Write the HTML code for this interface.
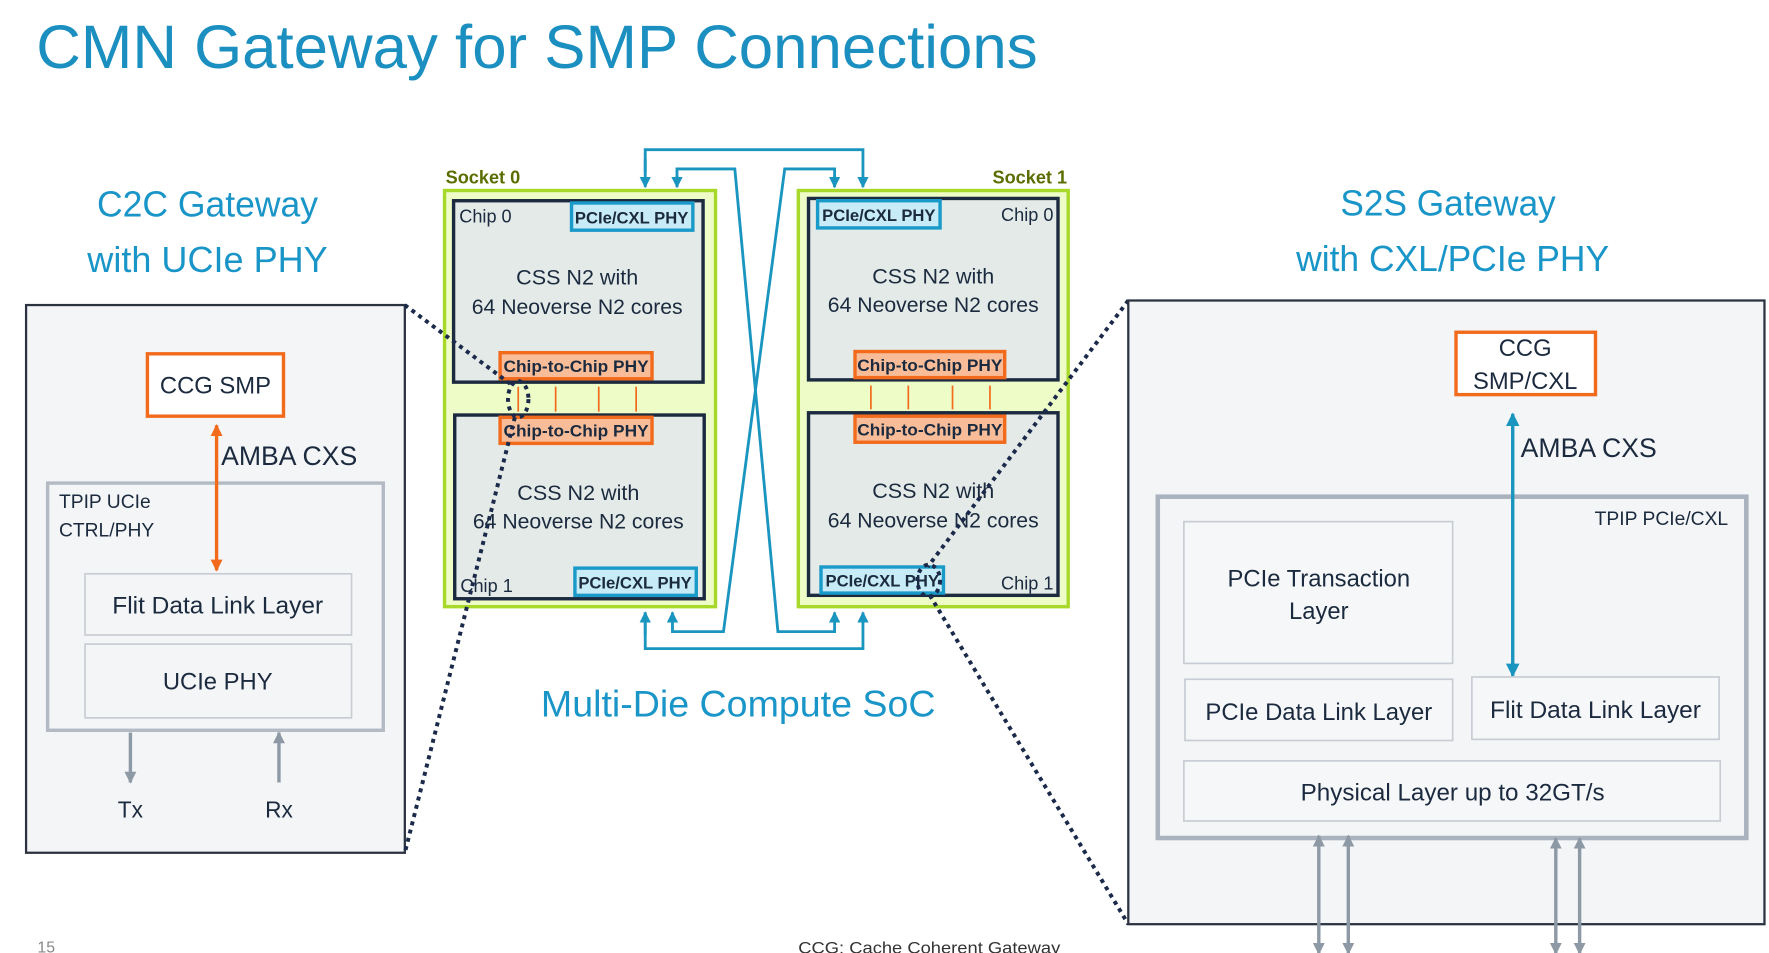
<!DOCTYPE html>
<html><head><meta charset="utf-8"><style>
html,body{margin:0;padding:0;background:#fff;}
svg{display:block;}
text{font-family:"Liberation Sans",sans-serif;}
</style></head><body>
<svg width="1769" height="953" viewBox="0 0 1560 840.4" preserveAspectRatio="none" xmlns="http://www.w3.org/2000/svg">
<defs>
<marker id="ab" viewBox="0 0 10 10" refX="9" refY="5" markerWidth="4" markerHeight="4" orient="auto-start-reverse"><path d="M0,0L10,5L0,10z" fill="#1a95c0"/></marker>
<marker id="ao" viewBox="0 0 10 10" refX="9" refY="5" markerWidth="3.5" markerHeight="3.5" orient="auto-start-reverse"><path d="M0,0L10,5L0,10z" fill="#f26b1d"/></marker>
<marker id="ag" viewBox="0 0 10 10" refX="9" refY="5" markerWidth="3.5" markerHeight="3.5" orient="auto-start-reverse"><path d="M0,0L10,5L0,10z" fill="#8e99a6"/></marker>
</defs>
<text x="32" y="60" font-size="54" fill="#1a8fc0" textLength="883" lengthAdjust="spacingAndGlyphs">CMN Gateway for SMP Connections</text>

<text x="183" y="191" font-size="32" fill="#1a95c8" text-anchor="middle" textLength="195" lengthAdjust="spacingAndGlyphs">C2C Gateway</text>
<text x="183" y="240" font-size="32" fill="#1a95c8" text-anchor="middle" textLength="212" lengthAdjust="spacingAndGlyphs">with UCIe PHY</text>
<text x="1277" y="190" font-size="32" fill="#1a95c8" text-anchor="middle" textLength="190" lengthAdjust="spacingAndGlyphs">S2S Gateway</text>
<text x="1281" y="239" font-size="32" fill="#1a95c8" text-anchor="middle" textLength="276" lengthAdjust="spacingAndGlyphs">with CXL/PCIe PHY</text>

<!-- left box -->
<rect x="23" y="269" width="334" height="483" fill="#f4f5f7" stroke="#2b3340" stroke-width="2"/>
<rect x="130" y="312" width="120" height="55" fill="#fff" stroke="#f26b1d" stroke-width="3"/>
<text x="190" y="347" font-size="21" fill="#1b2a3e" text-anchor="middle">CCG SMP</text>
<rect x="42" y="426" width="296" height="218" fill="#f4f5f7" stroke="#b3bac4" stroke-width="3"/>
<line x1="191" y1="375" x2="191" y2="503" stroke="#f26b1d" stroke-width="3" marker-start="url(#ao)" marker-end="url(#ao)"/>
<text x="195" y="410" font-size="24" fill="#1b2a3e" textLength="120" lengthAdjust="spacingAndGlyphs">AMBA CXS</text>
<text x="52" y="448" font-size="17" fill="#1b2a3e">TPIP UCIe</text>
<text x="52" y="473" font-size="17" fill="#1b2a3e">CTRL/PHY</text>
<rect x="75" y="506" width="235" height="54" fill="#f4f5f7" stroke="#c8cdd4" stroke-width="1.5"/>
<text x="192" y="541" font-size="21" fill="#1b2a3e" text-anchor="middle" textLength="186" lengthAdjust="spacingAndGlyphs">Flit Data Link Layer</text>
<rect x="75" y="568" width="235" height="65" fill="#f4f5f7" stroke="#c8cdd4" stroke-width="1.5"/>
<text x="192" y="608" font-size="21" fill="#1b2a3e" text-anchor="middle">UCIe PHY</text>
<line x1="115" y1="646" x2="115" y2="690" stroke="#8e99a6" stroke-width="3" marker-end="url(#ag)"/>
<line x1="246" y1="690" x2="246" y2="646" stroke="#8e99a6" stroke-width="3" marker-end="url(#ag)"/>
<text x="115" y="721" font-size="20" fill="#1b2a3e" text-anchor="middle">Tx</text>
<text x="246" y="721" font-size="20" fill="#1b2a3e" text-anchor="middle">Rx</text>

<!-- sockets -->
<text x="393" y="162" font-size="16" font-weight="bold" fill="#5a6e00">Socket 0</text>
<text x="941" y="162" font-size="16" font-weight="bold" fill="#5a6e00" text-anchor="end">Socket 1</text>
<rect x="392" y="168" width="239" height="367" fill="#eefcc8" stroke="#a8d82a" stroke-width="3"/>
<rect x="704" y="168" width="238" height="367" fill="#eefcc8" stroke="#a8d82a" stroke-width="3"/>

<g font-size="19" fill="#1b2a3e" text-anchor="middle">
<rect x="400" y="177" width="220" height="160" fill="#e3eae8" stroke="#1b2a3e" stroke-width="3"/>
<text x="509" y="251">CSS N2 with</text><text x="509" y="277" textLength="186" lengthAdjust="spacingAndGlyphs">64 Neoverse N2 cores</text>
<rect x="401" y="366" width="220" height="162" fill="#e3eae8" stroke="#1b2a3e" stroke-width="3"/>
<text x="510" y="441">CSS N2 with</text><text x="510" y="466" textLength="186" lengthAdjust="spacingAndGlyphs">64 Neoverse N2 cores</text>
<rect x="713" y="175" width="220" height="160" fill="#e3eae8" stroke="#1b2a3e" stroke-width="3"/>
<text x="823" y="250">CSS N2 with</text><text x="823" y="275" textLength="186" lengthAdjust="spacingAndGlyphs">64 Neoverse N2 cores</text>
<rect x="713" y="364" width="220" height="161" fill="#e3eae8" stroke="#1b2a3e" stroke-width="3"/>
<text x="823" y="439">CSS N2 with</text><text x="823" y="465" textLength="186" lengthAdjust="spacingAndGlyphs">64 Neoverse N2 cores</text>
</g>
<g font-size="16" fill="#1b2a3e">
<text x="405" y="196">Chip 0</text>
<text x="406" y="522">Chip 1</text>
<text x="929" y="195" text-anchor="end">Chip 0</text>
<text x="929" y="520" text-anchor="end">Chip 1</text>
</g>
<g stroke="#1a9ac8" stroke-width="3" fill="#c7ecf7">
<rect x="504" y="179" width="107" height="24"/>
<rect x="507" y="501" width="107" height="24"/>
<rect x="721" y="177" width="108" height="24"/>
<rect x="724" y="500" width="108" height="23"/>
</g>
<g font-size="15" font-weight="bold" fill="#1b2a3e" text-anchor="middle">
<text x="557" y="197" textLength="100" lengthAdjust="spacingAndGlyphs">PCIe/CXL PHY</text>
<text x="560" y="519" textLength="100" lengthAdjust="spacingAndGlyphs">PCIe/CXL PHY</text>
<text x="775" y="195" textLength="100" lengthAdjust="spacingAndGlyphs">PCIe/CXL PHY</text>
<text x="778" y="517" textLength="100" lengthAdjust="spacingAndGlyphs">PCIe/CXL PHY</text>
</g>
<g stroke="#f26b1d" stroke-width="3" fill="#f8bd98">
<rect x="441" y="311" width="134" height="23"/>
<rect x="441" y="368" width="134" height="23"/>
<rect x="754" y="310" width="132" height="23"/>
<rect x="754" y="367" width="132" height="23"/>
</g>
<g font-size="15" font-weight="bold" fill="#1b2a3e" text-anchor="middle">
<text x="508" y="328" textLength="128" lengthAdjust="spacingAndGlyphs">Chip-to-Chip PHY</text>
<text x="508" y="385" textLength="128" lengthAdjust="spacingAndGlyphs">Chip-to-Chip PHY</text>
<text x="820" y="327" textLength="128" lengthAdjust="spacingAndGlyphs">Chip-to-Chip PHY</text>
<text x="820" y="384" textLength="128" lengthAdjust="spacingAndGlyphs">Chip-to-Chip PHY</text>
</g>
<g stroke="#f26b1d" stroke-width="1.5">
<line x1="457" y1="341" x2="457" y2="363"/><line x1="490" y1="341" x2="490" y2="363"/><line x1="528" y1="341" x2="528" y2="363"/><line x1="561" y1="341" x2="561" y2="363"/>
<line x1="768" y1="340" x2="768" y2="361"/><line x1="801" y1="340" x2="801" y2="361"/><line x1="840" y1="340" x2="840" y2="361"/><line x1="873" y1="340" x2="873" y2="361"/>
</g>

<!-- blue connectors -->
<g stroke="#1a95c0" stroke-width="2.5" fill="none">
<polyline points="569,152 569,132 761,132 761,165" marker-end="url(#ab)"/>
<line x1="569" y1="140" x2="569" y2="165" marker-end="url(#ab)"/>
<polyline points="597,165 597,149 648,149 686,557 736,557 736,540" marker-end="url(#ab)"/>
<line x1="597" y1="155" x2="597" y2="165" marker-end="url(#ab)"/>
<polyline points="736,165 736,149 692,149 638,557 593,557 593,540" marker-end="url(#ab)"/>
<line x1="736" y1="155" x2="736" y2="165" marker-end="url(#ab)"/>
<polyline points="569,540 569,572 761,572 761,540" marker-end="url(#ab)"/>
<line x1="569" y1="560" x2="569" y2="540" marker-end="url(#ab)"/>
</g>

<!-- dotted -->
<g stroke="#1b2a4a" stroke-width="3.5" stroke-dasharray="3.5 4" fill="none">
<line x1="357" y1="269" x2="452" y2="340"/>
<ellipse cx="457" cy="352" rx="9" ry="16"/>
<line x1="454" y1="368" x2="357" y2="752"/>
<line x1="995" y1="265" x2="818" y2="500"/>
<ellipse cx="819" cy="512" rx="10" ry="14"/>
<line x1="820" y1="525" x2="995" y2="815"/>
</g>

<text x="651" y="632" font-size="33" fill="#1a95c8" text-anchor="middle" textLength="348" lengthAdjust="spacingAndGlyphs">Multi-Die Compute SoC</text>

<!-- right box -->
<rect x="995" y="265" width="561" height="550" fill="#f4f5f7" stroke="#2b3340" stroke-width="2"/>
<rect x="1284" y="293" width="123" height="55" fill="#fff" stroke="#f26b1d" stroke-width="3"/>
<text x="1345" y="314" font-size="21" fill="#1b2a3e" text-anchor="middle">CCG</text>
<text x="1345" y="343" font-size="21" fill="#1b2a3e" text-anchor="middle">SMP/CXL</text>
<rect x="1021" y="438" width="519" height="301" fill="#f4f5f7" stroke="#a9b2bd" stroke-width="4"/>
<line x1="1334" y1="365" x2="1334" y2="596" stroke="#1a95c0" stroke-width="3" marker-start="url(#ab)" marker-end="url(#ab)"/>
<text x="1341" y="403" font-size="24" fill="#1b2a3e" textLength="120" lengthAdjust="spacingAndGlyphs">AMBA CXS</text>
<text x="1524" y="463" font-size="17" fill="#1b2a3e" text-anchor="end">TPIP PCIe/CXL</text>
<g fill="#f6f7f9" stroke="#c8cdd4" stroke-width="1.5">
<rect x="1044" y="460" width="237" height="125"/>
<rect x="1045" y="599" width="236" height="54"/>
<rect x="1298" y="597" width="218" height="55"/>
<rect x="1044" y="671" width="473" height="53"/>
</g>
<g font-size="21" fill="#1b2a3e" text-anchor="middle">
<text x="1163" y="517">PCIe Transaction</text>
<text x="1163" y="546">Layer</text>
<text x="1163" y="635" textLength="200" lengthAdjust="spacingAndGlyphs">PCIe Data Link Layer</text>
<text x="1407" y="633" textLength="186" lengthAdjust="spacingAndGlyphs">Flit Data Link Layer</text>
<text x="1281" y="706" textLength="268" lengthAdjust="spacingAndGlyphs">Physical Layer up to 32GT/s</text>
</g>
<g stroke="#8e99a6" stroke-width="3">
<line x1="1163" y1="737" x2="1163" y2="841" marker-start="url(#ag)" marker-end="url(#ag)"/>
<line x1="1189" y1="737" x2="1189" y2="841" marker-start="url(#ag)" marker-end="url(#ag)"/>
<line x1="1372" y1="739" x2="1372" y2="841" marker-start="url(#ag)" marker-end="url(#ag)"/>
<line x1="1393" y1="739" x2="1393" y2="841" marker-start="url(#ag)" marker-end="url(#ag)"/>
</g>

<text x="33" y="840" font-size="14" fill="#888">15</text>
<text x="704" y="841" font-size="15" fill="#333" textLength="231" lengthAdjust="spacingAndGlyphs">CCG: Cache Coherent Gateway</text>
</svg>
</body></html>
